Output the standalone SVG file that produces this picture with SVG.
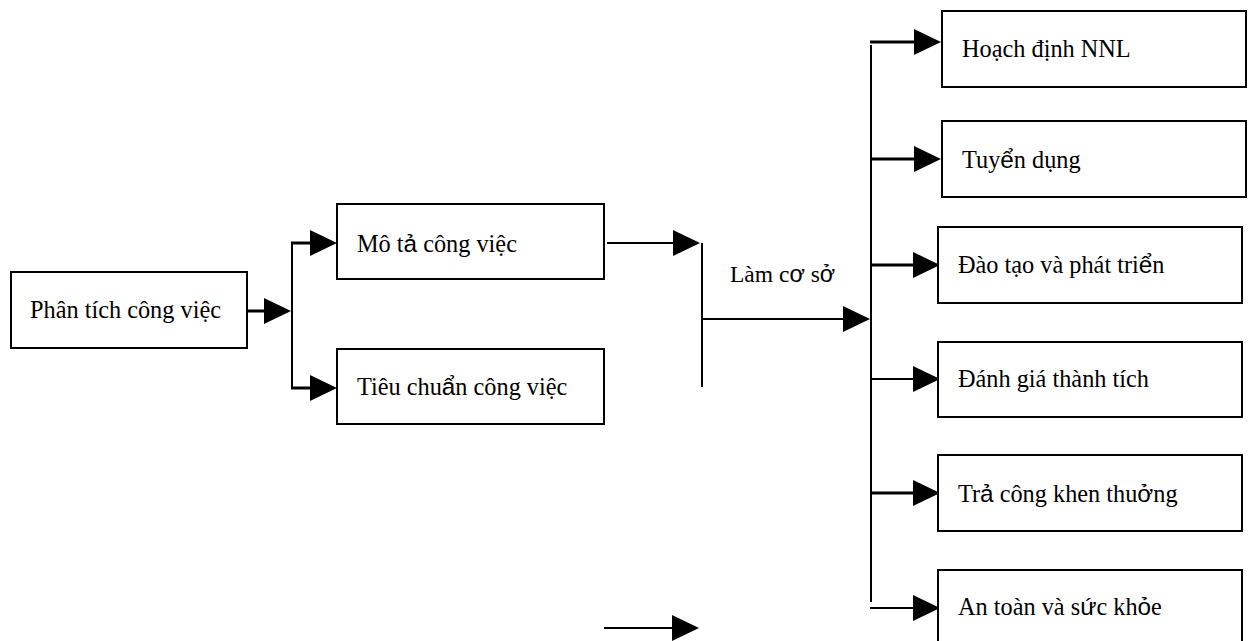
<svg xmlns="http://www.w3.org/2000/svg" width="1250" height="641" viewBox="0 0 1250 641">
<style>
.box{fill:#fff;stroke:#000;stroke-width:2}
.t{font-family:"Liberation Serif","Times New Roman",serif;font-size:24.3px;fill:#000}
.s{font-family:"Liberation Sans",Arial,sans-serif}
.c{stroke:#000;fill:none}
.th{stroke-width:3}
.tn{stroke-width:2}
</style>
<defs>
<marker id="ah" markerUnits="userSpaceOnUse" markerWidth="28" markerHeight="27" refX="17" refY="13" orient="auto">
<path d="M0,0 L27,13 L0,26 Z" fill="#000"/>
</marker>
</defs>
<rect width="1250" height="641" fill="#fff"/>
<g id="connectors">
<line class="c th" x1="247" y1="311" x2="281" y2="311" marker-end="url(#ah)"/>
<line class="c tn" x1="292" y1="243" x2="292" y2="388"/>
<line class="c th" x1="291" y1="243" x2="327" y2="243" marker-end="url(#ah)"/>
<line class="c th" x1="291" y1="388" x2="327" y2="388" marker-end="url(#ah)"/>
<line class="c tn" x1="607" y1="243" x2="690" y2="243" marker-end="url(#ah)"/>
<line class="c tn" x1="702" y1="243" x2="702" y2="387"/>
<line class="c tn" x1="702" y1="319" x2="860" y2="319" marker-end="url(#ah)"/>
<line class="c tn" x1="871" y1="45" x2="871" y2="602"/>
<line class="c th" x1="870" y1="42" x2="931" y2="42" marker-end="url(#ah)"/>
<line class="c th" x1="870" y1="159" x2="931" y2="159" marker-end="url(#ah)"/>
<line class="c th" x1="870" y1="265" x2="930" y2="265" marker-end="url(#ah)"/>
<line class="c tn" x1="870" y1="379" x2="930" y2="379" marker-end="url(#ah)"/>
<line class="c th" x1="870" y1="493" x2="930" y2="493" marker-end="url(#ah)"/>
<line class="c tn" x1="870" y1="608" x2="930" y2="608" marker-end="url(#ah)"/>
<line class="c tn" x1="604" y1="628" x2="689" y2="628" marker-end="url(#ah)"/>
</g>
<g id="n-phantich">
<rect class="box" x="11" y="272" width="236" height="76"/>
<text class="t" x="30" y="318">Phân tích công việc</text>
</g>
<g id="n-mota">
<rect class="box" x="337" y="204" width="267" height="75"/>
<text class="t" x="357" y="252">Mô t<tspan class="s">ả</tspan> công việc</text>
</g>
<g id="n-tieuchuan">
<rect class="box" x="337" y="349" width="267" height="75"/>
<text class="t" x="357" y="395">Tiêu chu<tspan class="s">ẩ</tspan>n công việc</text>
</g>
<g id="lbl-lamcoso">
<text class="t" x="730" y="282" style="font-size:23.5px">Làm c<tspan class="s">ơ</tspan> s<tspan class="s">ở</tspan></text>
</g>
<g id="n-hoachdinh">
<rect class="box" x="942" y="11" width="304" height="76"/>
<text class="t" x="962" y="57">Hoạch định NNL</text>
</g>
<g id="n-tuyendung">
<rect class="box" x="942" y="121" width="304" height="76"/>
<text class="t" x="962" y="168">Tuy<tspan class="s">ể</tspan>n dụng</text>
</g>
<g id="n-daotao">
<rect class="box" x="938" y="227" width="304" height="76"/>
<text class="t" x="958" y="273">Đào tạo và phát tri<tspan class="s">ể</tspan>n</text>
</g>
<g id="n-danhgia">
<rect class="box" x="938" y="342" width="304" height="75"/>
<text class="t" x="958" y="387">Đánh giá thành tích</text>
</g>
<g id="n-tracong">
<rect class="box" x="938" y="455" width="304" height="76"/>
<text class="t" x="958" y="502">Tr<tspan class="s">ả</tspan> công khen thu<tspan class="s">ở</tspan>ng</text>
</g>
<g id="n-antoan">
<rect class="box" x="938" y="570" width="304" height="80"/>
<text class="t" x="958" y="615">An toàn và s<tspan class="s">ứ</tspan>c kh<tspan class="s">ỏ</tspan>e</text>
</g>
</svg>
